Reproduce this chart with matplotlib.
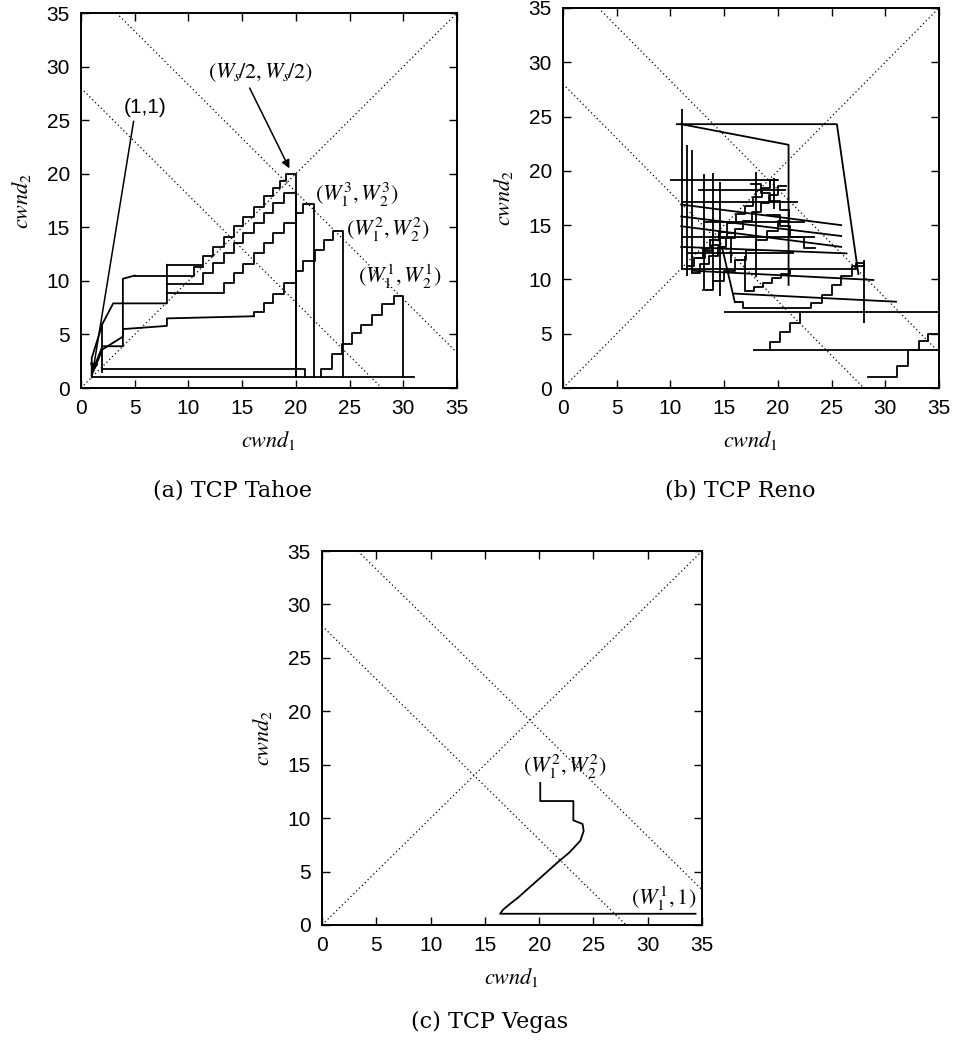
import matplotlib.pyplot as plt

plt.rcParams['mathtext.fontset'] = 'stix'
plt.rcParams['font.family'] = ['Liberation Sans', 'DejaVu Sans']

# ---------------- (a) TCP Tahoe ----------------
tahoe_lead_a_x = [1, 1, 2, 3, 8, 8]
tahoe_lead_a_y = [1, 2.8, 6.0, 7.9, 7.9, 11.5]
tahoe_a_x = [8, 11.4, 12.3, 13.3, 14.2, 15.1, 16.1, 17.0, 17.9, 18.5, 19.1, 20.0]
tahoe_a_y = [11.5, 12.3, 13.2, 14.1, 15.1, 16.0, 16.9, 17.9, 18.7, 19.3, 20.0, 1.0]

tahoe_lead_b_x = [1, 2, 3.9, 3.9, 5.0]
tahoe_lead_b_y = [1.2, 3.6, 4.8, 10.2, 10.5]
tahoe_b_x = [5.0, 10.5, 11.4]
tahoe_b_y = [10.5, 11.3, 11.3]

tahoe_c_x = [8, 11.4, 12.3, 13.3, 14.2, 15.1, 16.1, 17.0, 17.9, 18.9, 20.0]
tahoe_c_y = [9.7, 10.7, 11.7, 12.6, 13.5, 14.5, 15.4, 16.3, 17.3, 18.2, 1.0]

tahoe_d_x = [8, 13.3, 14.2, 15.1, 16.1, 17.0, 17.9, 18.9, 20.0, 20.7, 21.7]
tahoe_d_y = [8.9, 9.8, 10.7, 11.6, 12.6, 13.5, 14.5, 15.4, 16.3, 17.2, 1.0]

tahoe_lead_e_x = [1, 2, 3.9, 3.9, 8, 8, 16.1]
tahoe_lead_e_y = [1.4, 3.9, 3.9, 5.5, 5.8, 6.5, 6.7]
tahoe_e_x = [16.1, 16.1, 17.0, 17.9, 18.9, 20.0, 20.7, 21.8, 22.6, 23.5, 24.4]
tahoe_e_y = [6.7, 7.1, 7.9, 8.8, 9.8, 10.9, 11.9, 12.9, 13.8, 14.7, 1.0]

tahoe_w1_x = [22.3, 22.3, 23.4, 24.3, 25.2, 26.1, 27.1, 28.0, 29.1, 30.0]
tahoe_w1_y = [1.0, 1.8, 3.2, 4.1, 5.1, 5.9, 6.8, 7.8, 8.6, 1.0]

tahoe_base_x = [[1, 31], [2, 20.9, 20.9], [2, 2]]
tahoe_base_y = [[1.0, 1.0], [1.8, 1.8, 1.0], [1.5, 6.0]]

# ---------------- (b) TCP Reno ----------------
reno_poly_x = [[10.6, 25.5, 27.5], [11.0, 21.0, 21.0], [16.0, 16.5], [27.3, 27.3, 28.0, 28.0]]
reno_poly_y = [[24.3, 24.3, 10.5], [24.3, 22.4, 9.5], [7.9, 7.9], [11.0, 11.5, 11.5, 11.0]]

reno_v_x = [11.05, 11.5, 12.0, 13.1, 14.0, 14.6, 16.9, 18.0, 28.0, 15.6, 19.6]
reno_v_y0 = [10.9, 10.3, 10.6, 9.0, 9.5, 8.5, 9.0, 10.2, 6.0, 11.5, 16.5]
reno_v_y1 = [25.7, 22.4, 21.9, 19.7, 19.8, 19.0, 12.2, 19.9, 11.8, 14.0, 19.3]

reno_h_y = [19.2, 18.2, 17.1, 13.9, 11.0, 7.0, 3.5, 12.4, 15.3]
reno_h_x0 = [10.0, 12.6, 11.0, 11.0, 11.0, 15.0, 17.7, 11.5, 13.0]
reno_h_x1 = [20.0, 20.8, 21.9, 23.5, 27.3, 35.0, 35.0, 21.5, 22.5]

reno_s_x0 = [11.0, 11.0, 11.0, 11.0, 12.1, 15.9, 14.8]
reno_s_y0 = [16.9, 15.8, 14.9, 13.0, 10.8, 8.7, 13.0]
reno_s_x1 = [25.9, 25.9, 25.9, 26.4, 28.9, 31.0, 16.0]
reno_s_y1 = [15.0, 14.0, 13.0, 12.4, 9.95, 7.95, 7.9]

reno_stairs_x = [
    [11.5, 12.2, 13.0, 13.7, 14.5, 15.3, 16.1, 16.9, 17.7, 18.5, 19.3, 20.0],
    [12.0, 12.8, 13.6, 14.4, 15.2, 16.0, 16.8, 17.6, 18.4, 19.2, 20.0, 20.8],
    [13.0, 14.0, 15.0, 16.0, 17.0, 18.0, 19.0, 20.0, 21.0],
    [19.0, 20.2, 21.1, 22.4, 23.5],
    [16.9, 17.8, 18.6, 19.5, 20.3, 21.1],
    [16.3, 16.8, 23.1, 24.1, 25.0, 25.9, 26.9, 27.9],
    [19.3, 19.3, 20.2, 21.1, 22.1, 22.1],
    [28.4, 31.1, 32.1, 33.1, 34.0, 35.0],
    [12.5, 13.2, 13.9, 14.6, 15.3, 16.0],
    [17.5, 18.4, 19.3, 20.2, 21.0],
]
reno_stairs_y = [
    [11.2, 12.0, 12.8, 13.6, 14.4, 15.2, 16.0, 16.8, 17.6, 18.4, 19.2, 19.2],
    [10.6, 11.4, 12.2, 13.0, 13.8, 14.6, 15.4, 16.2, 17.0, 17.8, 18.6, 18.6],
    [9.0, 9.9, 10.8, 11.8, 12.7, 13.6, 14.5, 15.4, 16.3],
    [15.9, 14.9, 13.9, 12.9, 12.9],
    [8.9, 9.3, 9.7, 10.1, 10.5, 10.9],
    [7.9, 7.4, 7.8, 8.6, 9.5, 10.3, 11.2, 11.2],
    [3.5, 4.2, 5.2, 6.0, 6.9, 7.0],
    [1.0, 2.0, 3.5, 4.3, 5.0, 5.0],
    [12.0, 12.6, 13.2, 13.8, 14.3, 14.3],
    [18.8, 18.0, 17.2, 16.4, 16.4],
]

# ---------------- (c) TCP Vegas ----------------
vegas_x = [20.1, 20.1, 23.15, 23.15, 24.0, 24.1, 23.8, 22.8, 21.8, 20.7, 19.2, 18.1, 17.3, 16.7, 16.4, 34.4]
vegas_y = [13.3, 11.6, 11.6, 9.8, 9.45, 8.8, 7.9, 6.8, 5.95, 4.95, 3.6, 2.6, 1.96, 1.46, 1.05, 1.05]

LW = 1.3


def setup(ax):
    ax.set_xlim(0, 35)
    ax.set_ylim(0, 35)
    ax.set_xticks(range(0, 36, 5))
    ax.set_yticks(range(0, 36, 5))
    ax.tick_params(direction='in', length=6, width=1, top=True, right=True,
                   labelsize=15, pad=8)
    for s in ax.spines.values():
        s.set_linewidth(1.4)
    dot = dict(color='black', lw=0.9, ls=(0, (1, 2.2)))
    ax.plot([0, 35], [0, 35], **dot)
    ax.plot([3.3, 35], [35, 3.3], **dot)
    ax.plot([0, 28], [28, 0], **dot)
    ax.set_xlabel(r'$cwnd_1$', fontsize=16, labelpad=8)
    ax.set_ylabel(r'$cwnd_2$', fontsize=16, labelpad=10)


fig = plt.figure(figsize=(9.55, 10.51), dpi=100)
ax_a = fig.add_axes([0.0848, 0.6308, 0.3937, 0.3568])
ax_b = fig.add_axes([0.5895, 0.6308, 0.3937, 0.3616])
ax_c = fig.add_axes([0.3372, 0.1199, 0.3979, 0.3558])

# (a)
ax = ax_a
setup(ax)
ax.plot(tahoe_lead_a_x, tahoe_lead_a_y, color='black', lw=LW)
ax.step(tahoe_a_x, tahoe_a_y, where='post', color='black', lw=LW)
ax.plot(tahoe_lead_b_x, tahoe_lead_b_y, color='black', lw=LW)
ax.step(tahoe_b_x, tahoe_b_y, where='post', color='black', lw=LW)
ax.step(tahoe_c_x, tahoe_c_y, where='post', color='black', lw=LW)
ax.step(tahoe_d_x, tahoe_d_y, where='post', color='black', lw=LW)
ax.plot(tahoe_lead_e_x, tahoe_lead_e_y, color='black', lw=LW)
ax.step(tahoe_e_x, tahoe_e_y, where='post', color='black', lw=LW)
ax.step(tahoe_w1_x, tahoe_w1_y, where='post', color='black', lw=LW)
for bx, by in zip(tahoe_base_x, tahoe_base_y):
    ax.plot(bx, by, color='black', lw=LW)

arrow = dict(arrowstyle='-|>', color='black', lw=1.1, shrinkA=0, shrinkB=0,
             mutation_scale=12)
ax.annotate('', xy=(1.1, 1.5), xytext=(4.9, 24.9), arrowprops=arrow)
ax.annotate('', xy=(19.4, 20.5), xytext=(15.7, 28.0), arrowprops=arrow)
ax.text(6.0, 26.2, '(1,1)', fontsize=15, ha='center', va='center')
ax.text(16.7, 29.4, r'$(W_s\!/2,W_s\!/2)$', fontsize=16, ha='center', va='center')
ax.text(21.8, 18.0, r'$(W_1^3,W_2^3)$', fontsize=16, ha='left', va='center')
ax.text(24.7, 14.8, r'$(W_1^2,W_2^2)$', fontsize=16, ha='left', va='center')
ax.text(25.8, 10.4, r'$(W_1^1,W_2^1)$', fontsize=16, ha='left', va='center')

# (b)
ax = ax_b
setup(ax)
for px, py in zip(reno_poly_x, reno_poly_y):
    ax.plot(px, py, color='black', lw=LW)
ax.vlines(reno_v_x, reno_v_y0, reno_v_y1, color='black', lw=LW)
ax.hlines(reno_h_y, reno_h_x0, reno_h_x1, color='black', lw=LW)
for x0, y0, x1, y1 in zip(reno_s_x0, reno_s_y0, reno_s_x1, reno_s_y1):
    ax.plot([x0, x1], [y0, y1], color='black', lw=LW)
for sx, sy in zip(reno_stairs_x, reno_stairs_y):
    ax.step(sx, sy, where='post', color='black', lw=LW)

# (c)
ax = ax_c
setup(ax)
ax.plot(vegas_x, vegas_y, color='black', lw=LW)
ax.text(22.4, 14.8, r'$(W_1^2,W_2^2)$', fontsize=16, ha='center', va='center')
ax.text(34.5, 2.5, r'$(W_1^1,1)$', fontsize=16, ha='right', va='center')

cap = dict(fontsize=16, family='DejaVu Serif', ha='center', va='center')
fig.text(0.243, 0.533, '(a) TCP Tahoe', **cap)
fig.text(0.775, 0.533, '(b) TCP Reno', **cap)
fig.text(0.513, 0.028, '(c) TCP Vegas', **cap)

fig.savefig('out.png', dpi=100)
